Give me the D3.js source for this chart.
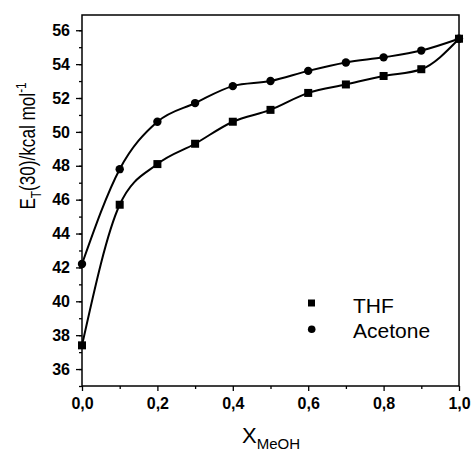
<!DOCTYPE html>
<html>
<head>
<meta charset="utf-8">
<script src="https://cdn.jsdelivr.net/npm/d3@7"></script>
<style>
	body { margin: 0; background: #fff; }
	text { font-family: "Liberation Sans", Arial, sans-serif; fill: #000; }
</style>
</head>
<body>
<div id="chart"></div>
<script>
	var xMeOH = [0, 0.1, 0.2, 0.3, 0.4, 0.5, 0.6, 0.7, 0.8, 0.9, 1.0]
	var thf = [37.4, 45.7, 48.1, 49.3, 50.6, 51.3, 52.3, 52.8, 53.3, 53.7, 55.5]
	var acetone = [42.2, 47.8, 50.6, 51.7, 52.7, 53.0, 53.6, 54.1, 54.4, 54.8, 55.5]
	var xTicks = [0, 0.2, 0.4, 0.6, 0.8, 1.0]
	var yTicks = [36, 38, 40, 42, 44, 46, 48, 50, 52, 54, 56]

	var w = 473
	var h = 452
	var boundaries = {
		left: 82,
		right: 459,
		top: 15,
		bottom: 386
	}

	var svg = d3.select("#chart")
		.append("svg")
		.attr("width", w)
		.attr("height", h)

	var xScale = d3.scaleLinear()
		.domain([0, 1])
		.range([boundaries.left, boundaries.right])

	var yScale = d3.scaleLinear()
		.domain([35, 56.9])
		.range([boundaries.bottom, boundaries.top])

	var comma = d => d3.format(".1f")(d).replace(".", ",")

	// frame
	svg.append("rect")
		.attr("x", boundaries.left)
		.attr("y", boundaries.top)
		.attr("width", boundaries.right - boundaries.left)
		.attr("height", boundaries.bottom - boundaries.top)
		.attr("fill", "none")
		.attr("stroke", "#000")
		.attr("stroke-width", 1.5)

	// x axis with minor ticks
	svg.append("g")
		.attr("transform", "translate(0," + boundaries.bottom + ")")
		.call(d3.axisBottom(xScale).tickValues(d3.range(0.1, 1, 0.2)).tickSize(3).tickFormat(""))
	svg.append("g")
		.attr("transform", "translate(0," + boundaries.bottom + ")")
		.call(d3.axisBottom(xScale).tickValues(xTicks).tickSize(5).tickPadding(7).tickFormat(comma))

	// y axis with minor ticks
	svg.append("g")
		.attr("transform", "translate(" + boundaries.left + ",0)")
		.call(d3.axisLeft(yScale).tickValues(d3.range(35, 57, 1)).tickSize(3).tickFormat(""))
	svg.append("g")
		.attr("transform", "translate(" + boundaries.left + ",0)")
		.call(d3.axisLeft(yScale).tickValues(yTicks).tickSize(6).tickPadding(6).tickFormat(d3.format("d")))

	svg.selectAll(".domain").remove()
	svg.selectAll(".tick line").attr("stroke", "#000").attr("stroke-width", 1.3)
	svg.selectAll(".tick text")
		.style("font-family", "'Liberation Sans', Arial, sans-serif")
		.style("font-size", "16px")
		.style("font-weight", "bold")
		.attr("fill", "#000")

	// curves
	var line = data => d3.line()
		.x((d, i) => xScale(xMeOH[i]))
		.y(d => yScale(d))
		.curve(d3.curveMonotoneX)(data)

	svg.append("path")
		.attr("d", line(thf))
		.attr("fill", "none")
		.attr("stroke", "#000")
		.attr("stroke-width", 2)

	svg.append("path")
		.attr("d", line(acetone))
		.attr("fill", "none")
		.attr("stroke", "#000")
		.attr("stroke-width", 2)

	// markers
	svg.selectAll(".thf")
		.data(thf)
		.enter()
		.append("rect").attr("class", "thf")
		.attr("x", (d, i) => xScale(xMeOH[i]) - 4)
		.attr("y", d => yScale(d) - 4)
		.attr("width", 8)
		.attr("height", 8)
		.attr("fill", "#000")

	svg.selectAll(".acetone")
		.data(acetone)
		.enter()
		.append("circle").attr("class", "acetone")
		.attr("cx", (d, i) => xScale(xMeOH[i]))
		.attr("cy", d => yScale(d))
		.attr("r", 4.2)
		.attr("fill", "#000")

	// legend
	svg.append("rect")
		.attr("x", 308).attr("y", 299.5)
		.attr("width", 7).attr("height", 7)
		.attr("fill", "#000")
	svg.append("circle")
		.attr("cx", 311.7).attr("cy", 329.3)
		.attr("r", 3.8)
		.attr("fill", "#000")
	svg.append("text")
		.attr("x", 353).attr("y", 313)
		.style("font-size", "21px")
		.text("THF")
	svg.append("text")
		.attr("x", 353).attr("y", 338)
		.style("font-size", "21px")
		.text("Acetone")

	// Text label for the Y axis
	var yTitle = svg.append("text")
		.attr("transform", "translate(35,146) rotate(-90) scale(0.78,1)")
		.style("text-anchor", "middle")
		.style("font-size", "22px")
	yTitle.append("tspan").text("E")
	yTitle.append("tspan").attr("dy", 6).style("font-size", "15px").text("T")
	yTitle.append("tspan").attr("dy", -6).text("(30)/kcal mol")
	yTitle.append("tspan").attr("dy", -9).style("font-size", "15px").text("-1")

	// Text label for the X axis
	var xTitle = svg.append("text")
		.attr("x", 271)
		.attr("y", 443)
		.style("text-anchor", "middle")
		.style("font-size", "22px")
	xTitle.append("tspan").text("X")
	xTitle.append("tspan").attr("dy", 6).style("font-size", "15px").text("MeOH")
</script>
</body>
</html>
